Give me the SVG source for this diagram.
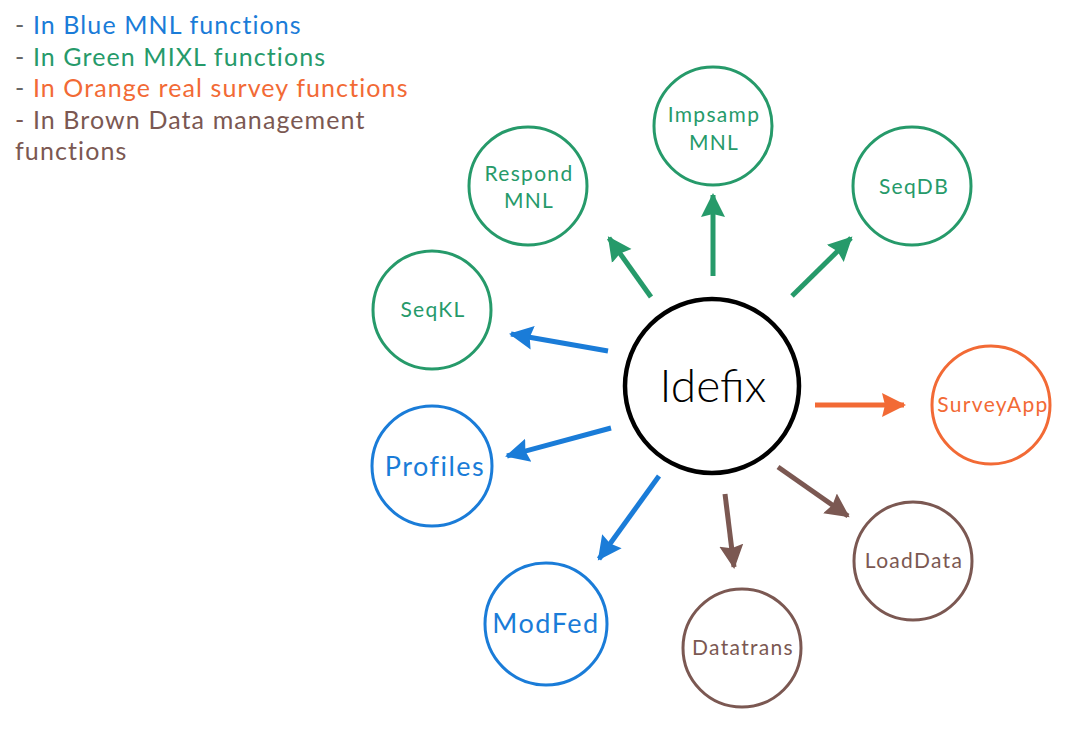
<svg xmlns="http://www.w3.org/2000/svg" width="1085" height="743" viewBox="0 0 1085 743">
<style>
text{font-family:"Lato","Open Sans","Liberation Sans",sans-serif;font-weight:400;}
.n{fill:#fff;stroke-width:3;}
.g{stroke:#269a6a;} .gt{fill:#269a6a;}
.b{stroke:#1a7cd8;} .bt{fill:#1a7cd8;}
.o{stroke:#f26a35;} .ot{fill:#f26a35;}
.r{stroke:#7b5852;} .rt{fill:#7b5852;}
.s{font-size:21px;text-anchor:middle;letter-spacing:1.3px;}
.L{font-size:27px;text-anchor:middle;letter-spacing:1.5px;}
.leg{font-size:25px;letter-spacing:1.1px;}
.dash{fill:#666;}
.a{stroke-width:5;fill:none;}
.main{font-size:46px;font-weight:300;text-anchor:middle;fill:#000;}
</style>
<defs>
<marker id="mg" markerUnits="userSpaceOnUse" markerWidth="26" markerHeight="26" viewBox="0 0 26 26" refX="22" refY="13" orient="auto"><path d="M0,1 L24,13 L0,25 L3,13 Z" fill="#269a6a"/></marker>
<marker id="mb" markerUnits="userSpaceOnUse" markerWidth="26" markerHeight="26" viewBox="0 0 26 26" refX="22" refY="13" orient="auto"><path d="M0,1 L24,13 L0,25 L3,13 Z" fill="#1a7cd8"/></marker>
<marker id="mo" markerUnits="userSpaceOnUse" markerWidth="26" markerHeight="26" viewBox="0 0 26 26" refX="22" refY="13" orient="auto"><path d="M0,1 L24,13 L0,25 L3,13 Z" fill="#f26a35"/></marker>
<marker id="mr" markerUnits="userSpaceOnUse" markerWidth="26" markerHeight="26" viewBox="0 0 26 26" refX="22" refY="13" orient="auto"><path d="M0,1 L24,13 L0,25 L3,13 Z" fill="#7b5852"/></marker>
</defs>
<g id="legend" class="leg">
<text x="15" y="34"><tspan class="dash">- </tspan><tspan class="bt">In Blue MNL functions</tspan></text>
<text x="15" y="66"><tspan class="dash">- </tspan><tspan class="gt">In Green MIXL functions</tspan></text>
<text x="15" y="97"><tspan class="dash">- </tspan><tspan class="ot">In Orange real survey functions</tspan></text>
<text x="15" y="129" class="rt">- In Brown Data management</text>
<text x="15" y="160" class="rt">functions</text>
</g>
<g id="connectors">
<line class="a g" x1="713" y1="276" x2="713" y2="195" marker-end="url(#mg)"/>
<line class="a g" x1="651" y1="297" x2="609" y2="238" marker-end="url(#mg)"/>
<line class="a g" x1="792" y1="296" x2="851" y2="238" marker-end="url(#mg)"/>
<line class="a b" x1="608" y1="351" x2="511" y2="334" marker-end="url(#mb)"/>
<line class="a b" x1="611" y1="428" x2="507" y2="456" marker-end="url(#mb)"/>
<line class="a b" x1="659" y1="476" x2="599" y2="559" marker-end="url(#mb)"/>
<line class="a r" x1="725" y1="494" x2="734" y2="567" marker-end="url(#mr)"/>
<line class="a r" x1="778" y1="467" x2="848" y2="516" marker-end="url(#mr)"/>
<line class="a o" x1="815" y1="405" x2="904" y2="405" marker-end="url(#mo)"/>
</g>
<g id="idefix">
<circle cx="712" cy="386" r="87" fill="#fff" stroke="#000" stroke-width="4.5"/>
<text class="main" x="713" y="402">Idefix</text>
</g>
<g id="impsamp">
<circle class="n g" cx="713" cy="126" r="59"/>
<text class="s gt" x="714" y="122">Impsamp</text>
<text class="s gt" x="714" y="150">MNL</text>
</g>
<g id="respond">
<circle class="n g" cx="528" cy="186" r="59"/>
<text class="s gt" x="529" y="181">Respond</text>
<text class="s gt" x="529" y="208">MNL</text>
</g>
<g id="seqdb">
<circle class="n g" cx="912" cy="186" r="59"/>
<text class="s gt" x="914" y="194">SeqDB</text>
</g>
<g id="seqkl">
<circle class="n g" cx="432" cy="310" r="59"/>
<text class="s gt" x="433" y="317">SeqKL</text>
</g>
<g id="surveyapp">
<circle class="n o" cx="991" cy="405" r="59"/>
<text class="s ot" x="993" y="412">SurveyApp</text>
</g>
<g id="profiles">
<circle class="n b" cx="432" cy="466" r="60"/>
<text class="L bt" x="435" y="476">Profiles</text>
</g>
<g id="modfed">
<circle class="n b" cx="546" cy="624" r="61"/>
<text class="L bt" x="546" y="633">ModFed</text>
</g>
<g id="datatrans">
<circle class="n r" cx="742" cy="648" r="59"/>
<text class="s rt" x="743" y="655">Datatrans</text>
</g>
<g id="loaddata">
<circle class="n r" cx="913" cy="561" r="59"/>
<text class="s rt" x="914" y="568">LoadData</text>
</g>
</svg>
